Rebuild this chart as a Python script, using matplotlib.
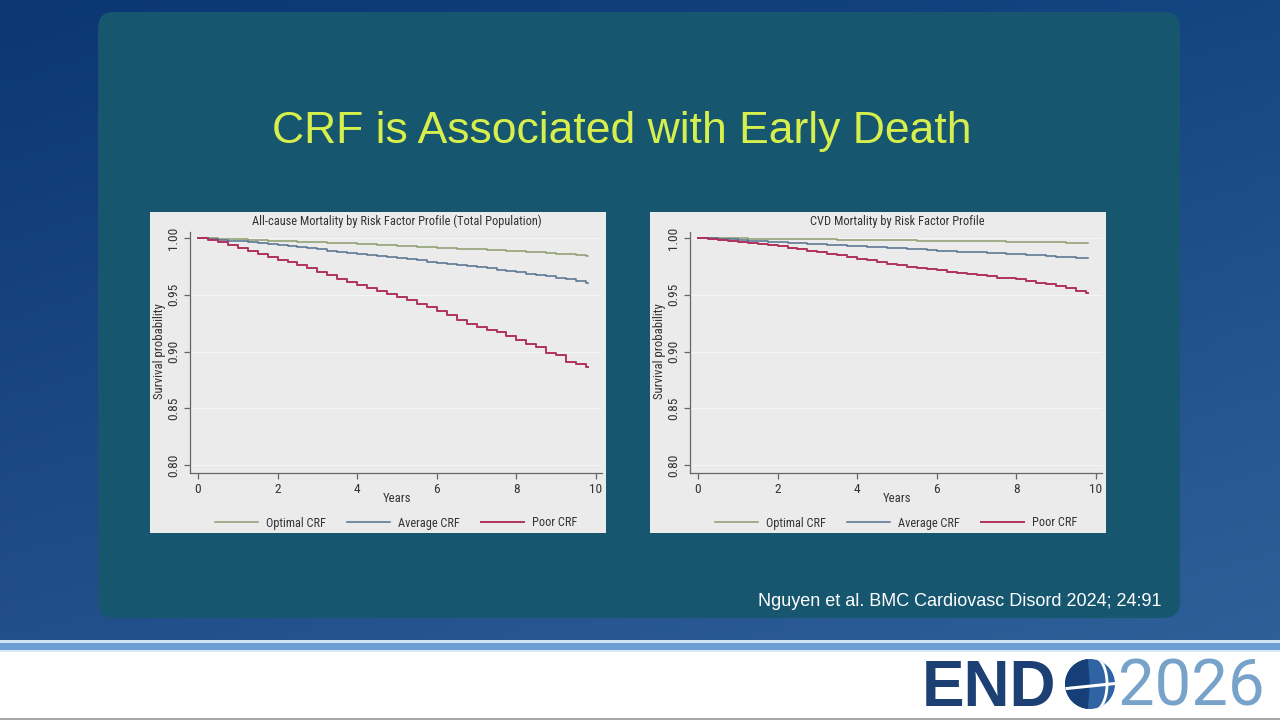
import matplotlib
matplotlib.use('Agg')
import matplotlib.pyplot as plt
import numpy as np
from matplotlib.patches import FancyBboxPatch, Rectangle, Circle, Wedge
from matplotlib.lines import Line2D
from matplotlib import font_manager as fm

# ---------------- data ----------------
years = [0, 0.25, 0.5, 0.75, 1.0, 1.25, 1.5, 1.75, 2.0, 2.25, 2.5, 2.75,
         3.0, 3.25, 3.5, 3.75, 4.0, 4.25, 4.5, 4.75, 5.0, 5.25, 5.5, 5.75,
         6.0, 6.25, 6.5, 6.75, 7.0, 7.25, 7.5, 7.75, 8.0, 8.25, 8.5, 8.75,
         9.0, 9.25, 9.5, 9.75, 9.8]

allcause_optimal = [1.000, 0.9997, 0.9994, 0.9990, 0.9987, 0.9984, 0.9981, 0.9977,
                    0.9974, 0.9971, 0.9968, 0.9965, 0.9962, 0.9959, 0.9956, 0.9953,
                    0.9950, 0.9946, 0.9942, 0.9937, 0.9933, 0.9929, 0.9924, 0.9920,
                    0.9915, 0.9911, 0.9907, 0.9904, 0.9900, 0.9896, 0.9893, 0.9889,
                    0.9885, 0.9879, 0.9873, 0.9867, 0.9862, 0.9856, 0.9850, 0.9844, 0.9844]
allcause_average = [1.000, 0.9993, 0.9985, 0.9978, 0.9970, 0.9962, 0.9955, 0.9948,
                    0.9940, 0.9930, 0.9920, 0.9910, 0.9900, 0.9890, 0.9880, 0.9870,
                    0.9860, 0.9850, 0.9841, 0.9832, 0.9822, 0.9812, 0.9802, 0.9792,
                    0.9782, 0.9772, 0.9762, 0.9752, 0.9742, 0.9732, 0.9722, 0.9710,
                    0.9698, 0.9686, 0.9674, 0.9662, 0.9650, 0.9636, 0.9622, 0.9608, 0.9608]
allcause_poor = [1.000, 0.9985, 0.9965, 0.9940, 0.9915, 0.9890, 0.9860, 0.9830,
                 0.9810, 0.9790, 0.9765, 0.9735, 0.9700, 0.9670, 0.9640, 0.9615,
                 0.9590, 0.9560, 0.9535, 0.9510, 0.9480, 0.9450, 0.9420, 0.9390,
                 0.9360, 0.9320, 0.9280, 0.9240, 0.9220, 0.9190, 0.9170, 0.9140,
                 0.9100, 0.9070, 0.9040, 0.8990, 0.8970, 0.8910, 0.8890, 0.8860, 0.8860]

cvd_optimal = [1.000, 0.9999, 0.9998, 0.9997, 0.9996, 0.9995, 0.9994, 0.9992,
               0.9991, 0.9990, 0.9989, 0.9989, 0.9988, 0.9987, 0.9986, 0.9986,
               0.9985, 0.9984, 0.9983, 0.9981, 0.9980, 0.9979, 0.9978, 0.9977,
               0.9976, 0.9975, 0.9974, 0.9973, 0.9972, 0.9971, 0.9970, 0.9969,
               0.9968, 0.9967, 0.9966, 0.9965, 0.9964, 0.9960, 0.9960, 0.9959, 0.9959]
cvd_average = [1.000, 0.9996, 0.9991, 0.9987, 0.9982, 0.9978, 0.9974, 0.9969,
               0.9965, 0.9960, 0.9955, 0.9950, 0.9945, 0.9941, 0.9936, 0.9931,
               0.9926, 0.9921, 0.9917, 0.9912, 0.9908, 0.9903, 0.9899, 0.9894,
               0.9890, 0.9886, 0.9881, 0.9877, 0.9873, 0.9869, 0.9864, 0.9860,
               0.9856, 0.9851, 0.9846, 0.9840, 0.9835, 0.9830, 0.9825, 0.9820, 0.9820]
cvd_poor = [1.000, 0.9993, 0.9984, 0.9973, 0.9962, 0.9953, 0.9944, 0.9935,
            0.9926, 0.9914, 0.9902, 0.9889, 0.9876, 0.9862, 0.9847, 0.9833,
            0.9818, 0.9803, 0.9789, 0.9774, 0.9760, 0.9749, 0.9738, 0.9726,
            0.9715, 0.9704, 0.9693, 0.9681, 0.9670, 0.9661, 0.9652, 0.9644,
            0.9635, 0.9621, 0.9607, 0.9594, 0.9580, 0.9562, 0.9530, 0.9515, 0.9515]

series_labels = ['Optimal CRF', 'Average CRF', 'Poor CRF']
series_colors = ['#8d9c6c', '#52708e', '#b0325e']
series_widths = [1.1, 1.1, 1.4]
chart_titles = ['All-cause Mortality by Risk Factor Profile (Total Population)',
                'CVD Mortality by Risk Factor Profile']
x_ticks = [0, 2, 4, 6, 8, 10]
y_ticks = [0.80, 0.85, 0.90, 0.95, 1.00]
y_tick_labels = ['0.80', '0.85', '0.90', '0.95', '1.00']

slide_title = 'CRF is Associated with Early Death'
citation = 'Nguyen et al. BMC Cardiovasc Disord 2024; 24:91'

# pick a condensed family if one is installed
installed = {f.name for f in fm.fontManager.ttflist}
condensed = None
for cand in ['Liberation Sans Narrow', 'Roboto Condensed', 'Open Sans Condensed',
             'Arial Narrow']:
    if cand in installed:
        condensed = cand
        break
if condensed is not None:
    NARROW = [condensed, 'Liberation Sans', 'DejaVu Sans']
    scale = 1.0
else:
    NARROW = ['Liberation Sans', 'DejaVu Sans']
    scale = 0.88
SANS = ['Liberation Sans', 'DejaVu Sans']

W, H = 1280, 720
fig = plt.figure(figsize=(12.8, 7.2), dpi=100)

def fx(px):
    return px / W

def fy(py):
    return 1 - py / H

# ---------------- background ----------------
bg = fig.add_axes([0, 0, 1, 1], zorder=0)
bg.set_xlim(0, W)
bg.set_ylim(H, 0)
bg.axis('off')

c_tl = np.array([0x0b, 0x36, 0x73]) / 255
c_tr = np.array([0x14, 0x46, 0x82]) / 255
c_bl = np.array([0x22, 0x4e, 0x8a]) / 255
c_br = np.array([0x2e, 0x60, 0x98]) / 255
u = np.linspace(0, 1, 128)[None, :, None]
v = np.linspace(0, 1, 72)[:, None, None]
grad = (1 - v) * ((1 - u) * c_tl + u * c_tr) + v * ((1 - u) * c_bl + u * c_br)
bg.imshow(grad, extent=[0, W, 640, 0], aspect='auto', zorder=0)

# white footer with blue band
bg.add_patch(Rectangle((0, 640), W, 80, fc='white', ec='none', zorder=1))
bg.add_patch(Rectangle((0, 640), W, 2.5, fc='#d2e5f4', ec='none', zorder=2))
bg.add_patch(Rectangle((0, 642.5), W, 7.5, fc='#6d9ed3', ec='none', zorder=2))
bg.add_patch(Rectangle((0, 650), W, 2, fc='#d8e8f6', ec='none', zorder=2))
bg.add_patch(Rectangle((0, 717.5), W, 2.5, fc='#a8a8a8', ec='none', zorder=2))

# teal panel
bg.add_patch(FancyBboxPatch((98, 12), 1082, 606,
                            boxstyle='round,pad=0,rounding_size=16',
                            fc='#17566f', ec='none', zorder=3))

# chart boxes
for left in (150, 650):
    bg.add_patch(Rectangle((left, 212), 456, 321, fc='#ebebeb', ec='none', zorder=4))

# slide title & citation
bg.text(622, 143, slide_title, ha='center', va='baseline', fontsize=32,
        color='#d7ef4c', family=SANS, zorder=5)
bg.text(1161, 606, citation, ha='right', va='baseline', fontsize=13,
        color='white', family=SANS, zorder=5)

# ENDO2026 logo
bg.text(922, 706, 'END', ha='left', va='baseline', fontsize=46, fontweight='bold',
        color='#1c3f74', family=SANS, zorder=5)
gc = (1090, 684)
bg.add_patch(Circle(gc, 25, fc='#2f63a3', ec='none', zorder=5))
bg.add_patch(Wedge(gc, 25, 95, 265, fc='#173f77', ec='none', zorder=6))
glob = Circle(gc, 25, fc='none', ec='none', zorder=5)
bg.add_patch(glob)
l1, = bg.plot([1062, 1120], [689, 683], color='white', lw=2.2, zorder=7)
l1.set_clip_path(glob)
th = np.linspace(-1.5, 1.5, 60)
l2, = bg.plot(1095 + 12 * np.cos(th), 684 + 26 * np.sin(th), color='white', lw=2.0, zorder=7)
l2.set_clip_path(glob)
bg.text(1118, 706, '2026', ha='left', va='baseline', fontsize=47, fontweight='normal',
        color='#77a2c9', family=['Roboto', 'Lato', 'DejaVu Sans'], zorder=5)

# ---------------- charts ----------------
def draw_chart(left, title, series):
    ax = fig.add_axes([fx(left + 40), fy(473), fx(412), 241 / H], zorder=2)
    ax.patch.set_alpha(0)
    for vals, col, lw, lab in zip(series, series_colors, series_widths, series_labels):
        ax.step(years, vals, where='post', color=col, lw=lw, label=lab)
    ax.set_xlim(-0.2, 10.15)
    ax.set_ylim(0.793, 1.0053)
    ax.set_xticks(x_ticks)
    ax.set_xticklabels([str(t) for t in x_ticks], family=NARROW,
                       fontsize=9.6 * scale, color='#333333')
    ax.set_yticks(y_ticks)
    ax.set_yticklabels(y_tick_labels, family=NARROW, fontsize=9.6 * scale, color='#333333',
                       rotation=90, va='center')
    ax.tick_params(axis='both', direction='out', length=4, width=0.9, color='#666666')
    ax.tick_params(axis='x', pad=3)
    ax.tick_params(axis='y', pad=3)
    for s in ('top', 'right'):
        ax.spines[s].set_visible(False)
    for s in ('left', 'bottom'):
        ax.spines[s].set_color('#666666')
        ax.spines[s].set_linewidth(0.9)
    ax.grid(axis='y', color='#f5f5f5', lw=0.8)
    ax.set_axisbelow(True)
    fig.text(fx(left + 247), fy(221), title, ha='center', va='center',
             family=NARROW, fontsize=8.9 * scale, color='#333333')
    fig.text(fx(left + 9), fy(351), 'Survival probability', ha='center', va='center',
             rotation=90, family=NARROW, fontsize=9.2 * scale, color='#333333')
    fig.text(fx(left + 247), fy(499), 'Years', ha='center', va='center',
             family=NARROW, fontsize=9.2 * scale, color='#333333')
    handles = [Line2D([0], [0], color=c, lw=w) for c, w in zip(series_colors, series_widths)]
    fig.legend(handles, series_labels, loc='center',
               bbox_to_anchor=(fx(left + 246), fy(523)), ncol=3, frameon=False,
               prop={'family': NARROW, 'size': 8.8 * scale}, handlelength=3.5,
               handletextpad=0.65, columnspacing=1.75, labelcolor='#333333')
    return ax

draw_chart(150, chart_titles[0], [allcause_optimal, allcause_average, allcause_poor])
draw_chart(650, chart_titles[1], [cvd_optimal, cvd_average, cvd_poor])

fig.savefig('out.png', dpi=100)
